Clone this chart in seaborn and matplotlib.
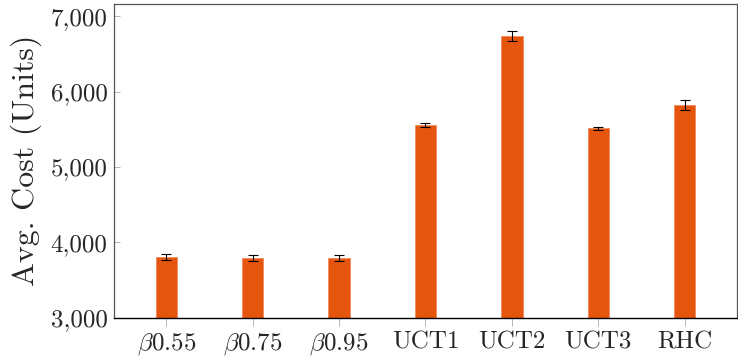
import matplotlib
matplotlib.use('Agg')
import pandas as pd
import seaborn as sns
import matplotlib.pyplot as plt
from matplotlib.ticker import FuncFormatter

BAR_COLOR = '#e6550d'

methods = [r'$\beta$0.55', r'$\beta$0.75', r'$\beta$0.95', 'UCT1', 'UCT2', 'UCT3', 'RHC']
avg_cost = [3808, 3790, 3790, 5556, 6740, 5512, 5821]
cost_err = [40, 38, 38, 30, 70, 25, 66]

df = pd.DataFrame({'method': methods, 'cost': avg_cost, 'err': cost_err})

sns.set_style('white')
plt.rcParams['font.family'] = ['serif']
plt.rcParams['font.serif'] = ['cmr10', 'DejaVu Serif']
plt.rcParams['mathtext.fontset'] = 'cm'
plt.rcParams['axes.formatter.use_mathtext'] = True

fig, ax = plt.subplots(figsize=(7.38, 3.63), dpi=100)

sns.barplot(
    data=df,
    x='method',
    y='cost',
    color=BAR_COLOR,
    width=0.247,
    edgecolor='#f08a5d',
    linewidth=0.6,
    saturation=1,
    ax=ax
)

ax.errorbar(
    x=range(len(df)),
    y=df['cost'],
    yerr=df['err'],
    fmt='none',
    ecolor='black',
    elinewidth=0.8,
    capsize=3.5,
    capthick=0.8
)

ax.set_xlim(-0.6, 6.6)
ax.set_ylim(3000, 7170)
ax.set_yticks([3000, 4000, 5000, 6000, 7000])
ax.yaxis.set_major_formatter(FuncFormatter(lambda v, p: f'{v:,.0f}'))

ax.set_xlabel('')
ax.set_ylabel('Avg. Cost (Units)', fontsize=23, labelpad=6)
ax.tick_params(axis='both', labelsize=18)
ax.tick_params(axis='x', direction='out', length=6, width=0.6, color='#aaaaaa', bottom=True, pad=4)
ax.tick_params(axis='y', direction='in', length=4, width=0.6, color='#aaaaaa', left=True, pad=5)

for side in ['top', 'right', 'left']:
    ax.spines[side].set_color('#555555')
    ax.spines[side].set_linewidth(0.9)
ax.spines['bottom'].set_color('black')
ax.spines['bottom'].set_linewidth(1.0)

fig.subplots_adjust(left=0.155, right=0.998, top=0.99, bottom=0.125)
plt.savefig('out.png', dpi=100)
